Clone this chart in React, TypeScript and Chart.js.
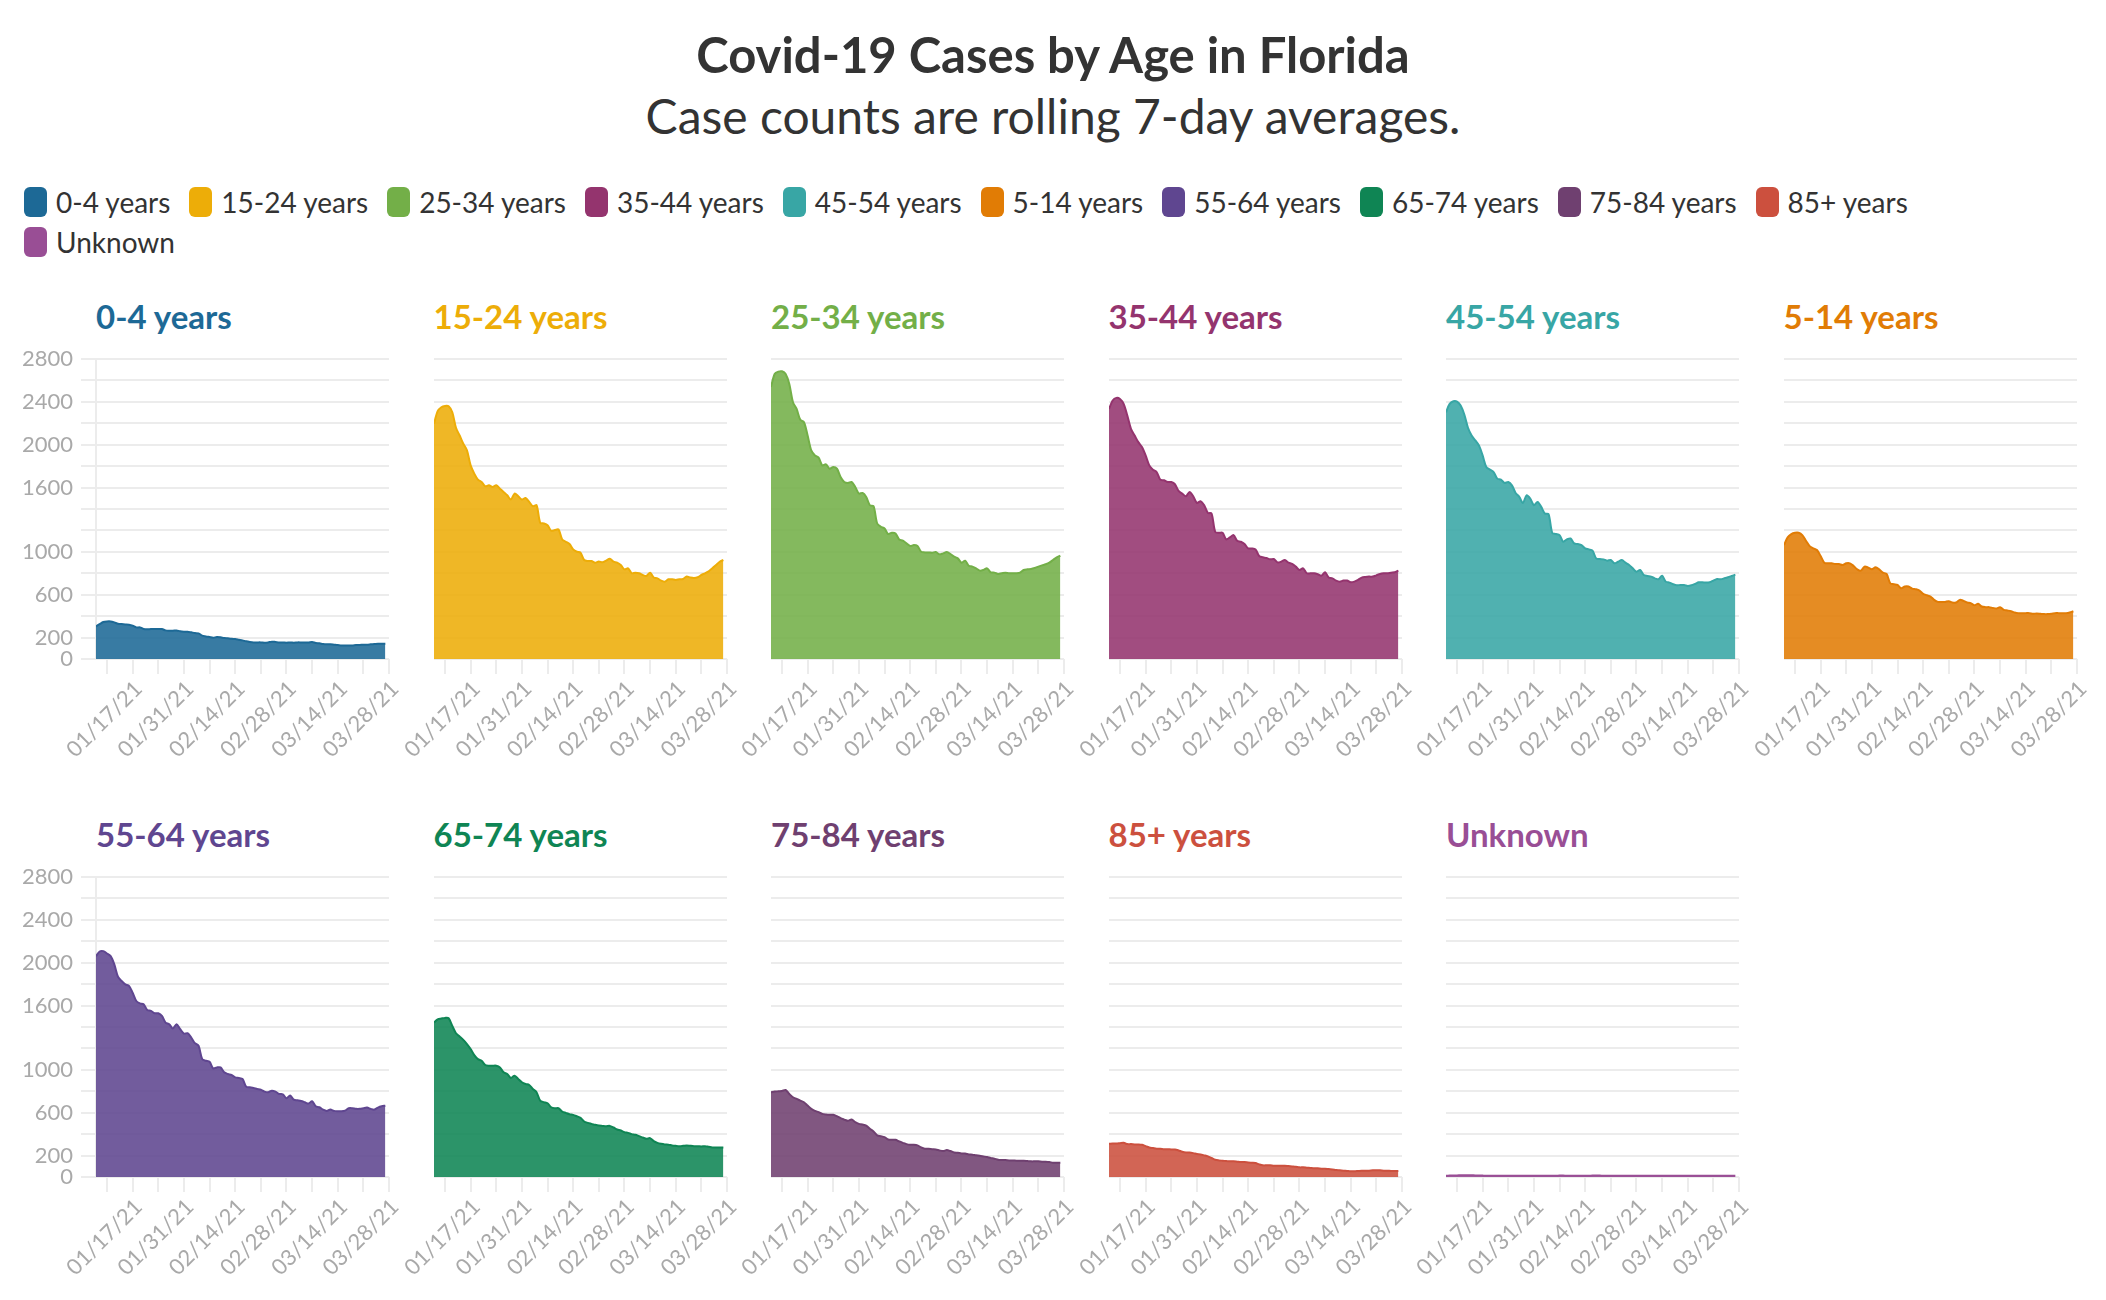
import { useEffect, useRef } from 'react';
import { Chart, registerables } from 'chart.js';

Chart.register(...registerables);

// age groups, in legend order
const ages = ['0-4 years', '15-24 years', '25-34 years', '35-44 years', '45-54 years', '5-14 years',
    '55-64 years', '65-74 years', '75-84 years', '85+ years', 'Unknown'];

const colors = ['#1d6996', '#edad08', '#73af48', '#94346e', '#38a6a5', '#e17c05',
    '#5f4690', '#0f8554', '#6f4070', '#cc503e', '#994e95'];

// daily 7-day averages, 01/07/21 .. 03/27/21
const age0to4 = [305, 326, 345, 351, 351, 342, 329, 326, 323, 320, 311, 295, 295, 280, 277, 280, 280, 280, 280, 267,
    264, 264, 267, 258, 255, 255, 249, 242, 239, 218, 211, 205, 199, 205, 202, 196, 193, 190, 186, 180,
    174, 165, 159, 155, 155, 155, 152, 155, 162, 159, 155, 155, 152, 155, 152, 155, 155, 155, 155, 159,
    149, 146, 140, 137, 137, 134, 131, 127, 127, 127, 127, 131, 131, 134, 134, 137, 140, 143, 143, 143];
const age15to24 = [2195, 2313, 2350, 2362, 2359, 2303, 2158, 2086, 2009, 1947, 1807, 1730, 1674, 1652, 1612, 1621, 1606, 1621, 1590, 1559,
    1528, 1488, 1544, 1519, 1488, 1503, 1466, 1426, 1435, 1271, 1265, 1249, 1197, 1203, 1209, 1116, 1094, 1073, 1023, 1001,
    992, 924, 915, 915, 899, 911, 902, 918, 936, 908, 899, 877, 837, 846, 800, 806, 800, 784, 775, 806,
    760, 753, 732, 722, 744, 744, 738, 744, 747, 769, 760, 756, 763, 784, 800, 818, 846, 877, 908, 924];
const age25to34 = [2540, 2660, 2682, 2685, 2660, 2567, 2396, 2334, 2232, 2210, 2086, 1947, 1900, 1879, 1807, 1817, 1776, 1792, 1776, 1699,
    1652, 1643, 1652, 1606, 1544, 1550, 1513, 1435, 1426, 1265, 1234, 1218, 1166, 1178, 1172, 1116, 1104, 1079, 1054, 1063,
    1054, 1001, 995, 995, 992, 998, 977, 986, 998, 980, 955, 939, 899, 918, 871, 862, 846, 825, 831, 846,
    809, 806, 794, 800, 806, 800, 800, 800, 806, 831, 837, 840, 849, 862, 874, 884, 899, 924, 949, 964];
const age35to44 = [2334, 2412, 2437, 2427, 2381, 2272, 2148, 2086, 2024, 1978, 1900, 1807, 1767, 1745, 1674, 1668, 1652, 1652, 1631, 1569,
    1544, 1519, 1559, 1519, 1457, 1473, 1435, 1364, 1358, 1187, 1178, 1178, 1116, 1135, 1156, 1104, 1094, 1073, 1032, 1032,
    1023, 961, 949, 942, 930, 933, 902, 908, 924, 899, 887, 862, 831, 846, 800, 800, 800, 791, 778, 809,
    760, 753, 732, 722, 732, 732, 716, 722, 738, 760, 766, 769, 769, 781, 794, 800, 800, 806, 809, 825];
const age45to54 = [2303, 2381, 2406, 2403, 2365, 2282, 2158, 2086, 2040, 1993, 1900, 1792, 1767, 1745, 1683, 1674, 1643, 1652, 1621, 1550,
    1513, 1457, 1528, 1497, 1435, 1466, 1420, 1358, 1352, 1178, 1166, 1156, 1094, 1116, 1125, 1079, 1073, 1063, 1032, 1023,
    1011, 939, 933, 930, 918, 924, 893, 908, 924, 899, 877, 846, 815, 831, 784, 775, 769, 753, 744, 778,
    722, 713, 698, 688, 691, 691, 682, 688, 701, 716, 716, 713, 716, 732, 747, 744, 753, 763, 775, 787];
const age5to14 = [1063, 1135, 1166, 1178, 1178, 1156, 1104, 1054, 1032, 1017, 961, 899, 893, 893, 887, 887, 877, 893, 893, 868,
    837, 825, 862, 853, 837, 856, 837, 806, 794, 707, 698, 691, 660, 676, 676, 657, 651, 639, 608, 595,
    583, 552, 533, 533, 533, 539, 527, 527, 552, 543, 527, 521, 502, 515, 490, 484, 484, 477, 471, 484,
    459, 453, 446, 434, 428, 428, 428, 428, 422, 425, 422, 419, 419, 422, 428, 428, 428, 428, 434, 446];
const age55to64 = [2061, 2105, 2108, 2086, 2061, 1984, 1869, 1829, 1798, 1783, 1720, 1643, 1621, 1612, 1559, 1550, 1528, 1528, 1503, 1441,
    1426, 1386, 1426, 1380, 1339, 1342, 1302, 1249, 1225, 1100, 1085, 1076, 1014, 1023, 1023, 977, 961, 952, 930, 924,
    915, 843, 837, 831, 822, 815, 797, 791, 806, 797, 775, 772, 735, 760, 722, 716, 710, 698, 685, 707,
    660, 651, 629, 617, 629, 617, 614, 614, 620, 642, 642, 636, 636, 642, 648, 636, 629, 648, 660, 666];
const age65to74 = [1441, 1472, 1479, 1485, 1482, 1410, 1342, 1311, 1280, 1240, 1194, 1138, 1100, 1085, 1045, 1039, 1039, 1039, 1023, 977,
    961, 924, 946, 915, 884, 868, 859, 822, 791, 713, 698, 688, 651, 642, 642, 611, 598, 586, 580, 567,
    552, 518, 505, 496, 487, 480, 477, 474, 477, 462, 443, 434, 418, 412, 400, 394, 381, 369, 356, 363,
    335, 319, 310, 304, 301, 295, 291, 288, 291, 295, 291, 288, 288, 285, 288, 282, 276, 276, 276, 276];
const age75to84 = [791, 797, 800, 803, 812, 775, 744, 729, 713, 698, 667, 636, 617, 605, 589, 583, 580, 580, 567, 549,
    536, 524, 536, 512, 496, 490, 480, 450, 425, 388, 381, 372, 350, 347, 347, 332, 319, 307, 301, 301,
    295, 276, 264, 264, 260, 257, 248, 242, 251, 242, 229, 226, 220, 220, 211, 208, 202, 198, 192, 186,
    177, 171, 161, 158, 158, 155, 155, 152, 152, 152, 149, 146, 146, 146, 143, 143, 140, 133, 133, 133];
const age85plus = [310, 313, 313, 316, 319, 307, 307, 304, 304, 301, 288, 276, 270, 264, 264, 260, 260, 257, 257, 248,
    236, 229, 229, 223, 214, 211, 202, 192, 177, 161, 155, 152, 149, 146, 146, 143, 140, 140, 136, 133,
    130, 118, 109, 109, 109, 105, 105, 105, 105, 102, 99, 96, 90, 90, 87, 84, 81, 81, 78, 78,
    74, 71, 65, 62, 59, 56, 53, 53, 56, 59, 59, 59, 62, 62, 62, 59, 59, 56, 56, 56];
const ageUnknown = [12, 13, 14, 15, 16, 17, 17, 16, 15, 14, 13, 12, 12, 11, 11, 11, 11, 11, 11, 11,
    11, 11, 12, 12, 12, 12, 11, 11, 11, 12, 12, 13, 13, 12, 12, 12, 11, 11, 12, 12,
    13, 13, 13, 12, 12, 12, 12, 12, 12, 12, 11, 11, 11, 11, 11, 12, 12, 11, 11, 11,
    11, 11, 11, 11, 12, 12, 12, 12, 12, 12, 11, 11, 11, 11, 11, 11, 11, 11, 11, 11];

const series = [age0to4, age15to24, age25to34, age35to44, age45to54, age5to14,
    age55to64, age65to74, age75to84, age85plus, ageUnknown];

// x axis: days since 01/07/21, weekly ticks, labels every other week
const xTickDays = [3, 10, 17, 24, 31, 38, 45, 52, 59, 66, 73, 80];
const xTickLabels = ['', '01/17/21', '', '01/31/21', '', '02/14/21', '', '02/28/21', '', '03/14/21', '', '03/28/21'];
const yGridValues = [0, 200, 400, 600, 800, 1000, 1200, 1400, 1600, 1800, 2000, 2200, 2400, 2600, 2800];
const yTickLabels = [0, 200, 600, 1000, 1600, 2000, 2400, 2800];

const FONT = 'Lato, "Noto Sans", sans-serif';
const GRID = '#ececec';
const TICK = '#a9a9a9';

const PLOT_W = 293;
const PLOT_H = 300;
const Y_W = 90;
const X_H = 110;
const PAD_TOP = 24;
const PAD_RIGHT = 24;
const COL_X = 96;
const COL_STEP = 337.5;
const ROW_Y = [359, 877];

const withAlpha = (hex: string, a: number) => {
    const n = parseInt(hex.slice(1), 16);
    return `rgba(${(n >> 16) & 255}, ${(n >> 8) & 255}, ${n & 255}, ${a})`;
};

interface PanelProps {
    label: string;
    color: string;
    values: number[];
    col: number;
    row: number;
}

const Panel: React.FC<PanelProps> = ({ label, color, values, col, row }) => {
    const chartRef = useRef<HTMLCanvasElement | null>(null);
    const plotLeft = COL_X + col * COL_STEP;
    const plotTop = ROW_Y[row];
    const first = col === 0;

    useEffect(() => {
        const ctx = chartRef.current?.getContext('2d');
        if (!ctx) return;

        const chart = new Chart(ctx, {
            type: 'line',
            data: {
                datasets: [{
                    label,
                    data: values.map((v, i) => ({ x: i, y: v })),
                    fill: 'origin',
                    backgroundColor: withAlpha(color, 0.88),
                    borderColor: color,
                    borderWidth: 2,
                    pointRadius: 0,
                    tension: 0.3,
                }],
            },
            options: {
                animation: false,
                responsive: true,
                maintainAspectRatio: false,
                layout: { padding: { top: PAD_TOP, right: PAD_RIGHT, left: 0, bottom: 0 } },
                plugins: {
                    legend: { display: false },
                    tooltip: { enabled: false },
                },
                scales: {
                    x: {
                        type: 'linear',
                        min: 0,
                        max: 80,
                        afterBuildTicks: (axis) => { axis.ticks = xTickDays.map((v) => ({ value: v })); },
                        afterFit: (axis) => { axis.height = X_H; },
                        ticks: {
                            autoSkip: false,
                            minRotation: 45,
                            maxRotation: 45,
                            padding: 2,
                            labelOffset: 6,
                            color: TICK,
                            font: { family: FONT, size: 22 },
                            callback: (_v, i) => xTickLabels[i],
                        },
                        grid: { drawOnChartArea: false, drawTicks: true, tickLength: 15, color: GRID, lineWidth: 2 },
                        border: { display: false },
                    },
                    y: {
                        min: 0,
                        max: 2800,
                        afterBuildTicks: (axis) => { axis.ticks = yGridValues.map((v) => ({ value: v })); },
                        afterFit: (axis) => { axis.width = Y_W; },
                        ticks: {
                            display: first,
                            autoSkip: false,
                            padding: 8,
                            color: TICK,
                            font: { family: FONT, size: 22 },
                            callback: (v) => (yTickLabels.includes(Number(v)) ? String(v) : ''),
                        },
                        grid: { color: GRID, lineWidth: 2, drawTicks: first, tickLength: 15 },
                        border: { display: first, color: GRID, width: 2 },
                    },
                },
            },
        });

        return () => {
            chart.destroy();
        };
    }, [label, color, values, first]);

    return (
        <>
            <div style={{
                position: 'absolute', left: plotLeft, top: plotTop - 63, fontFamily: FONT,
                fontWeight: 700, fontSize: 33, color, lineHeight: '40px', whiteSpace: 'nowrap',
            }}>{label}</div>
            <div style={{
                position: 'absolute', left: plotLeft - Y_W, top: plotTop - PAD_TOP,
                width: Y_W + PLOT_W + PAD_RIGHT, height: PAD_TOP + PLOT_H + X_H,
            }}>
                <canvas ref={chartRef}></canvas>
            </div>
        </>
    );
};

const App = () => {
    return (
        <div style={{ position: 'absolute', left: 0, top: 0, width: 2106, height: 1300, background: '#fff', fontFamily: FONT, color: '#333' }}>
            <div style={{ position: 'absolute', left: 0, top: 24, width: 2106, textAlign: 'center', fontSize: 49, fontWeight: 700, lineHeight: '60px' }}>
                Covid-19 Cases by Age in Florida
            </div>
            <div style={{ position: 'absolute', left: 0, top: 86, width: 2106, textAlign: 'center', fontSize: 48, lineHeight: '60px' }}>
                Case counts are rolling 7-day averages.
            </div>
            <div style={{ position: 'absolute', left: 24, top: 185, width: 1960, display: 'flex', flexWrap: 'wrap', rowGap: 6 }}>
                {ages.map((a, i) => (
                    <div key={a} style={{ display: 'flex', alignItems: 'center', marginRight: 19, height: 34 }}>
                        <span style={{ display: 'inline-block', width: 23, height: 30, borderRadius: 6, background: colors[i], marginRight: 9 }}></span>
                        <span style={{ fontSize: 28, color: '#333' }}>{a}</span>
                    </div>
                ))}
            </div>
            {ages.map((a, i) => (
                <Panel key={a} label={a} color={colors[i]} values={series[i]} col={i % 6} row={Math.floor(i / 6)} />
            ))}
        </div>
    );
};

export default App;
